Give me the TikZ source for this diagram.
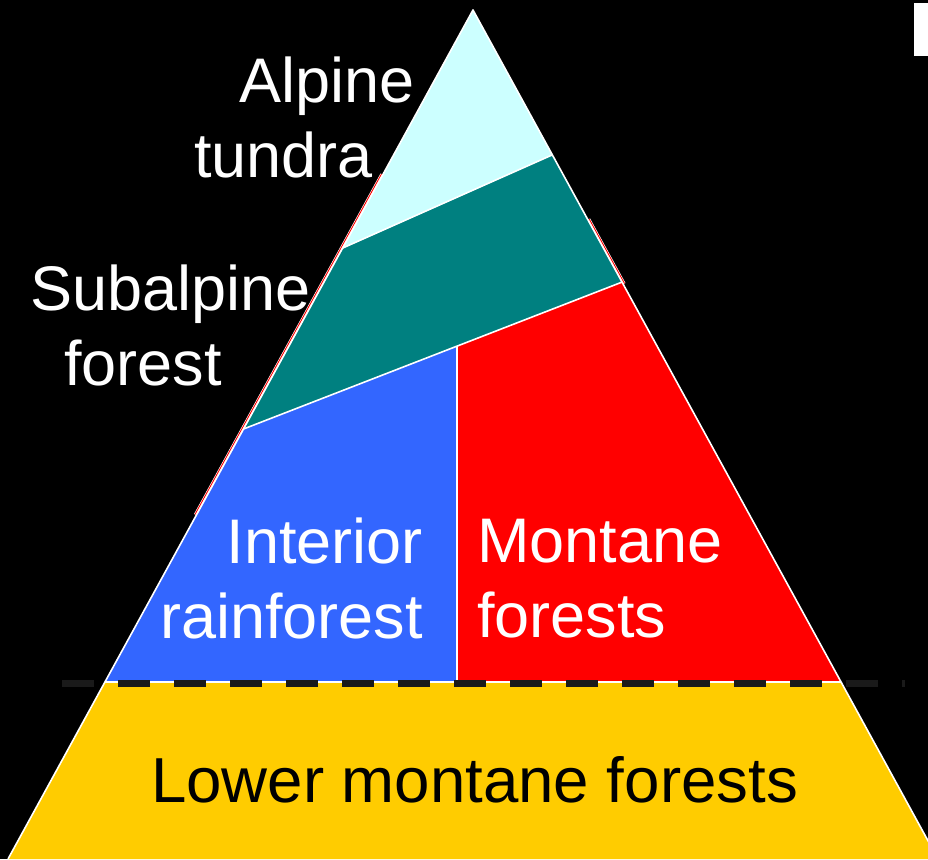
\documentclass[tikz,border=0pt]{standalone}
\usepackage{fontspec}
\setmainfont{Liberation Sans}
\usetikzlibrary{calc}
\definecolor{ctundra}{HTML}{CCFFFF}
\definecolor{csub}{HTML}{008080}
\definecolor{cint}{HTML}{3366FF}
\definecolor{cmont}{HTML}{FF0000}
\definecolor{clow}{HTML}{FFCC00}
\definecolor{cdash}{HTML}{1A1A1A}
\tikzset{
  edge/.style={draw=white,line width=1.6pt},
  lab/.style={font=\fontsize{63}{75}\selectfont,text=white,inner sep=0pt},
  % thin red strip left over along the flanks
  seam/.style={draw=white,line width=0.6pt,double=cmont,double distance=1pt},
  divide/.style={draw=cdash,line width=7pt,dash pattern=on 32pt off 24pt}
}

\begin{document}
\begin{tikzpicture}[x=1pt,y=-1pt]
  \fill[black] (0,0) rectangle (928,859);
  \useasboundingbox (0,0) rectangle (928,859);
  \coordinate (apex) at (473,10);
  \coordinate (bl) at (8,859);
  \coordinate (br) at (938,859);
  \begin{scope}
    \clip (apex) -- (bl) -- (br) -- cycle;
    \fill[cmont] (0,-30) rectangle (940,682);
    \fill[ctundra] (0,-30) -- (0,400.3) -- (940,-17.4) -- (940,-30) -- cycle;
    \fill[csub] (0,400.3) -- (940,-17.4) -- (940,158.7) -- (0,523.5) -- cycle;
    \fill[cint] (0,523.5) -- (457,346.1) -- (457,682) -- (0,682) -- cycle;
    \fill[clow] (0,682) rectangle (940,870);
    \draw[edge] (0,400.3) -- (940,-17.4);
    \draw[edge] (0,523.5) -- (940,158.7);
    \draw[edge] (457,346.1) -- (457,682);
    \draw[edge] (0,682) -- (940,682);
  \end{scope}
  \draw[seam] ($(apex)!0.194!(bl)+(-1.3,-0.7)$) -- ($(apex)!0.595!(bl)+(-1.3,-0.7)$);
  \draw[seam] ($(apex)!0.247!(br)+(1.3,-0.7)$) -- ($(apex)!0.323!(br)+(1.3,-0.7)$);
  \draw[edge,line join=round] (bl) -- (apex) -- (br);

  \coordinate (dashL) at (62,683);
  \coordinate (dashR) at (905,683);
  \draw[divide] (dashL) -- (dashR);

  \fill[white] (914,3) rectangle (928,56);

  \node[lab,anchor=base west] (alpine) at (239,102) {Alpine};
  \node[lab,anchor=base west] (tundra) at (194,177) {tundra};
  \node[lab,anchor=base west] (subalpine) at (30,310) {Subalpine};
  \node[lab,anchor=base west] (subforest) at (64,385) {forest};
  \node[lab,align=right,anchor=north east] (interior) at (423,518) {Interior\\rainforest};
  \node[lab,align=left,anchor=north west] (montane) at (477,519) {Montane\\forests};
  \node[inner sep=0pt,anchor=base,font=\fontsize{63.6}{75}\selectfont] (lower) at (474.5,802)
    {Lower montane forests};
\end{tikzpicture}
\end{document}
